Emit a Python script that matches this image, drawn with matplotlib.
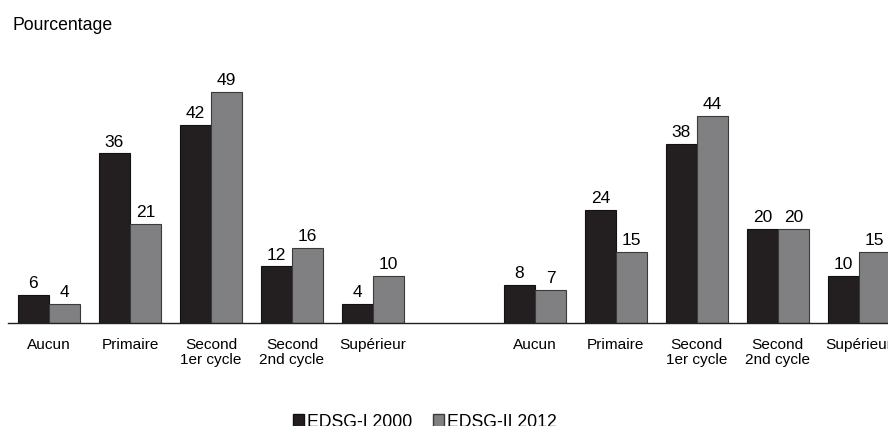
import matplotlib
matplotlib.use("Agg")
import matplotlib.pyplot as plt
from matplotlib.patches import Patch
import numpy as np

plt.rcParams["font.family"] = ["Liberation Sans", "DejaVu Sans"]

# données
categories = ["Aucun", "Primaire", "Second\n1er cycle", "Second\n2nd cycle", "Supérieur"]
left_2000 = [6, 36, 42, 12, 4]
left_2012 = [4, 21, 49, 16, 10]
right_2000 = [8, 24, 38, 20, 10]
right_2012 = [7, 15, 44, 20, 15]
series_names = ["EDSG-I 2000", "EDSG-II 2012"]

DARK = "#231f20"
GREY = "#808082"
EDGE_D = "#111111"
EDGE_G = "#3a3a3a"

fig = plt.figure(figsize=(8.88, 4.27), dpi=100)
ax = fig.add_axes([8 / 888, 103 / 427, 880 / 888, 282.6 / 427])

pos = np.concatenate([np.arange(5), np.arange(5) + 6])
vals_2000 = left_2000 + right_2000
vals_2012 = left_2012 + right_2012
w = 0.385

b1 = ax.bar(pos - w / 2, vals_2000, width=w, color=DARK, edgecolor=EDGE_D, lw=0.8)
b2 = ax.bar(pos + w / 2, vals_2012, width=w, color=GREY, edgecolor=EDGE_G, lw=0.8)
ax.bar_label(b1, padding=3.5, fontsize=12.5)
ax.bar_label(b2, padding=3.5, fontsize=12.5)

ax.set_xlim(-0.506, 10.36)
ax.set_ylim(0, 60)
ax.set_xticks(pos)
ax.set_xticklabels(categories * 2, fontsize=11.1, linespacing=1.12)
ax.tick_params(axis="x", length=0, pad=10)
ax.set_yticks([])
for s in ["top", "right", "left"]:
    ax.spines[s].set_visible(False)
ax.spines["bottom"].set_color("#222222")
ax.spines["bottom"].set_linewidth(1.0)

fig.text(12 / 888, 1 - 29.5 / 427, "Pourcentage", fontsize=12.7, va="baseline", ha="left")

handles = [Patch(facecolor=DARK, edgecolor=EDGE_D),
           Patch(facecolor=GREY, edgecolor=EDGE_G)]
fig.legend(handles, series_names, loc="center", bbox_to_anchor=(425 / 888, 4 / 427),
           ncol=2, frameon=False, fontsize=12.7, handlelength=0.63, handleheight=0.75,
           handletextpad=0.17, columnspacing=1.2, borderpad=0)

fig.savefig("out.png", dpi=100)
